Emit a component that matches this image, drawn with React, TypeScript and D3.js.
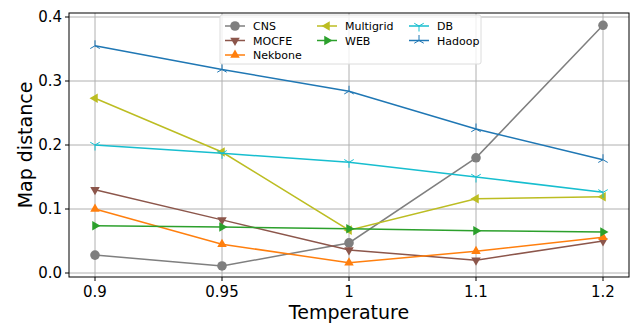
import React from 'react';
import * as d3 from 'd3';

const temps = ['0.9', '0.95', '1', '1.1', '1.2'];
const yTicks = [0, 0.1, 0.2, 0.3, 0.4];

const cns = [0.028, 0.011, 0.047, 0.18, 0.387];
const mocfe = [0.13, 0.083, 0.036, 0.02, 0.05];
const nekbone = [0.1, 0.045, 0.016, 0.034, 0.056];
const multigrid = [0.273, 0.189, 0.067, 0.116, 0.119];
const web = [0.074, 0.072, 0.069, 0.066, 0.064];
const db = [0.2, 0.187, 0.173, 0.15, 0.126];
const hadoop = [0.355, 0.318, 0.284, 0.225, 0.177];

const series = [
  { name: 'CNS', values: cns, color: '#7f7f7f', marker: 'circle' },
  { name: 'MOCFE', values: mocfe, color: '#8c564b', marker: 'down' },
  { name: 'Nekbone', values: nekbone, color: '#ff7f0e', marker: 'up' },
  { name: 'Multigrid', values: multigrid, color: '#bcbd22', marker: 'left' },
  { name: 'WEB', values: web, color: '#2ca02c', marker: 'right' },
  { name: 'DB', values: db, color: '#17becf', marker: 'tri1' },
  { name: 'Hadoop', values: hadoop, color: '#1f77b4', marker: 'tri2' },
];

// matplotlib ncol=3 fills columns 3 / 2 / 2
const legendSlots = [
  [0, 0], [0, 1], [0, 2],
  [1, 0], [1, 1],
  [2, 0], [2, 1],
];

const W = 631;
const H = 323;
const m = { left: 69, right: 629, top: 13, bottom: 277 };

const Marker = ({ kind, x, y, color }: { kind: string; x: number; y: number; color: string }) => {
  const r = 5.5;
  if (kind === 'circle') return <circle cx={x} cy={y} r={4.8} fill={color} />;
  const tri = (angles: number[]) =>
    angles.map(a => `${x + r * Math.cos(a)},${y + r * Math.sin(a)}`).join(' ');
  const d2r = Math.PI / 180;
  if (kind === 'down') return <polygon points={tri([90 * d2r, 210 * d2r, 330 * d2r])} fill={color} />;
  if (kind === 'up') return <polygon points={tri([-90 * d2r, 30 * d2r, 150 * d2r])} fill={color} />;
  if (kind === 'left') return <polygon points={tri([180 * d2r, 300 * d2r, 60 * d2r])} fill={color} />;
  if (kind === 'right') return <polygon points={tri([0, 120 * d2r, 240 * d2r])} fill={color} />;
  const angs = kind === 'tri1' ? [90, 210, 330] : [-90, 30, 150];
  return (
    <g stroke={color} strokeWidth={1}>
      {angs.map(a => (
        <line key={a} x1={x} y1={y} x2={x + r * Math.cos(a * d2r)} y2={y + r * Math.sin(a * d2r)} />
      ))}
    </g>
  );
};

export default function App() {
  const x = d3.scalePoint().domain(temps).range([95, 603]);
  const y = d3.scaleLinear().domain([0, 0.4]).range([273, 17]);
  const line = d3
    .line<number>()
    .x((_, i) => x(temps[i]) as number)
    .y(d => y(d));

  const font = 'DejaVu Sans, sans-serif';
  const legX = 220;
  const legY = 15;

  return (
    <svg width={W} height={H} style={{ position: 'absolute', left: 0, top: 0 }} fontFamily={font}>
      <rect width={W} height={H} fill="#fff" />
      {/* grid */}
      {temps.map(t => (
        <line key={t} x1={x(t)} x2={x(t)} y1={m.top} y2={m.bottom} stroke="#b0b0b0" strokeWidth={1} />
      ))}
      {yTicks.map(v => (
        <line key={v} x1={m.left} x2={m.right} y1={y(v)} y2={y(v)} stroke="#b0b0b0" strokeWidth={1} />
      ))}
      {/* series */}
      {series.map(s => (
        <g key={s.name}>
          <path d={line(s.values) as string} fill="none" stroke={s.color} strokeWidth={1.5} />
          {s.values.map((v, i) => (
            <Marker key={i} kind={s.marker} x={x(temps[i]) as number} y={y(v)} color={s.color} />
          ))}
        </g>
      ))}
      {/* legend */}
      <rect x={legX} y={legY} width={261} height={49} rx={2} fill="#fff" fillOpacity={0.8} stroke="#dcdcdc" strokeWidth={1} />
      {series.map((s, i) => {
        const [col, row] = legendSlots[i];
        const lx = legX + 5 + col * 92;
        const ly = legY + 11 + row * 14.5;
        return (
          <g key={s.name}>
            <line x1={lx} x2={lx + 20} y1={ly} y2={ly} stroke={s.color} strokeWidth={1.5} />
            <Marker kind={s.marker} x={lx + 10} y={ly} color={s.color} />
            <text x={lx + 28} y={ly + 4} fontSize={11} fill="#000">{s.name}</text>
          </g>
        );
      })}
      {/* axes frame */}
      <rect x={m.left} y={m.top} width={m.right - m.left} height={m.bottom - m.top} fill="none" stroke="#000" strokeWidth={1} />
      {temps.map(t => (
        <g key={t}>
          <line x1={x(t)} x2={x(t)} y1={m.bottom} y2={m.bottom + 4} stroke="#000" />
          <text x={x(t)} y={m.bottom + 20} fontSize={15} textAnchor="middle">{t}</text>
        </g>
      ))}
      {yTicks.map(v => (
        <g key={v}>
          <line x1={m.left - 4} x2={m.left} y1={y(v)} y2={y(v)} stroke="#000" />
          <text x={m.left - 7} y={y(v) + 5} fontSize={15} textAnchor="end">{v.toFixed(1)}</text>
        </g>
      ))}
      <text x={(m.left + m.right) / 2} y={319} fontSize={19} textAnchor="middle">Temperature</text>
      <text transform={`translate(32,${(m.top + m.bottom) / 2}) rotate(-90)`} fontSize={19} textAnchor="middle">Map distance</text>
    </svg>
  );
}
